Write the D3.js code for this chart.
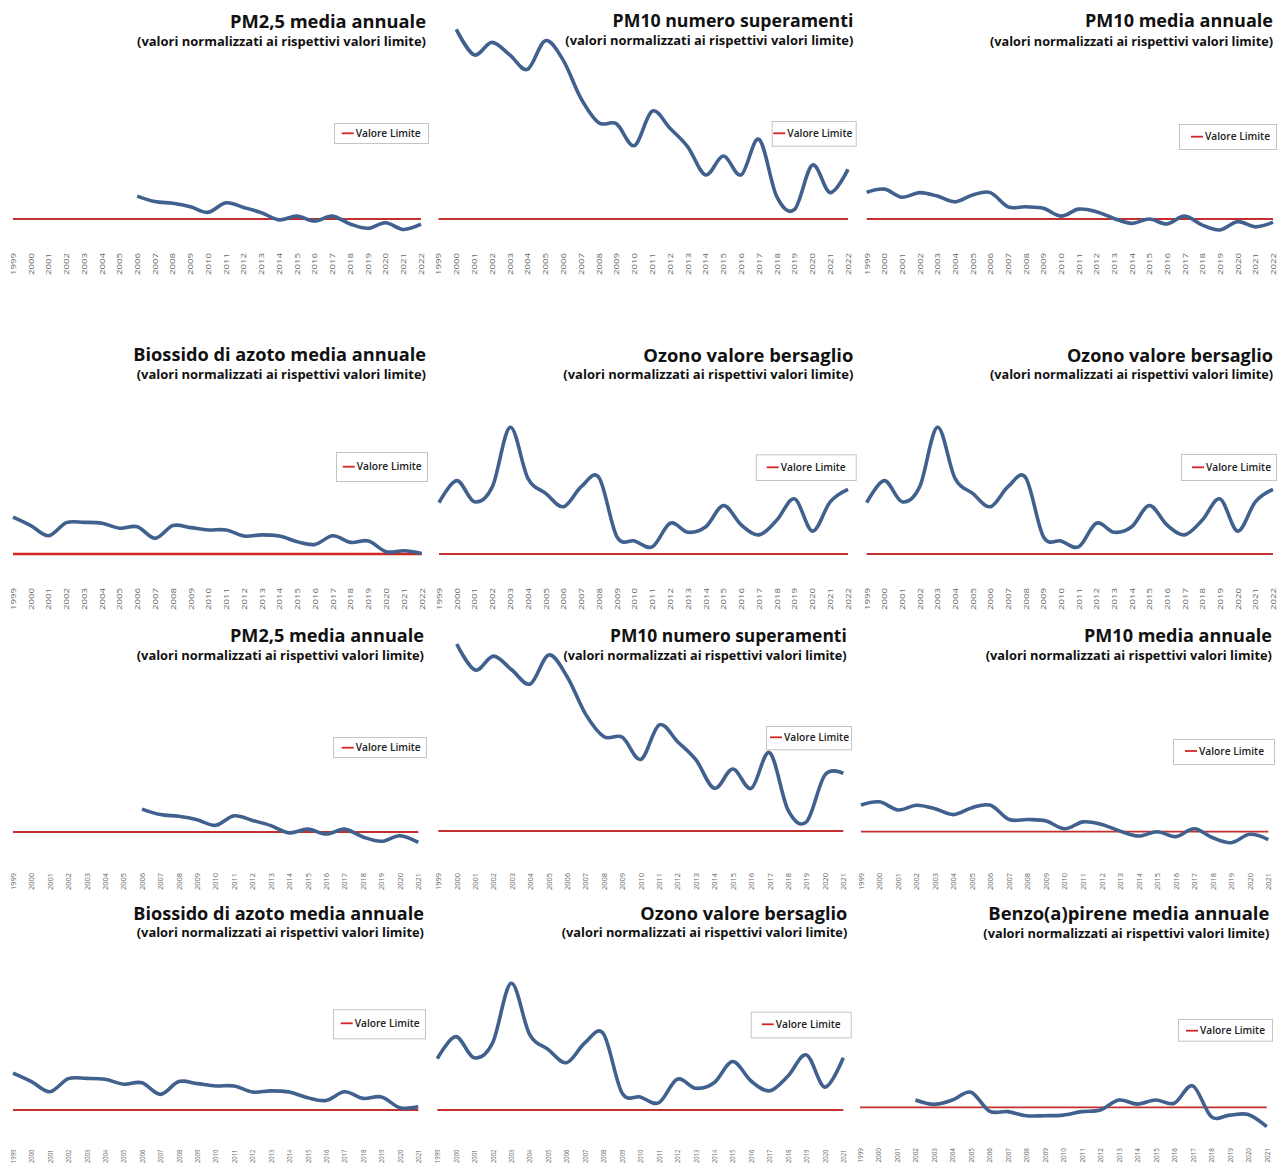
<!DOCTYPE html>
<html><head><meta charset="utf-8">
<script src="https://cdn.jsdelivr.net/npm/d3@7"></script>
<style>body{margin:0;background:#fff} svg{display:block}</style>
</head><body><svg id="c" width="1278" height="1164"></svg>
<script>
// ---------- DATA ----------
const years = ["1999","2000","2001","2002","2003","2004","2005","2006","2007","2008","2009","2010","2011","2012","2013","2014","2015","2016","2017","2018","2019","2020","2021","2022"];
const years2021 = ["1999","2000","2001","2002","2003","2004","2005","2006","2007","2008","2009","2010","2011","2012","2013","2014","2015","2016","2017","2018","2019","2020","2021"];

const limitValue = 1; // valori normalizzati: 1 = valore limite
const legendLabel = "Valore Limite";
const subtitle = "(valori normalizzati ai rispettivi valori limite)";

// PM2,5 media annuale, 2006-2022
const pm25Years = ["2006","2007","2008","2009","2010","2011","2012","2013","2014","2015","2016","2017","2018","2019","2020","2021","2022"];
const pm25Mean  = [1.79,1.60,1.54,1.42,1.23,1.56,1.40,1.22,0.97,1.10,0.93,1.10,0.83,0.68,0.87,0.64,0.82];

// PM10 numero superamenti, 2000-2022
const pm10ExcYears = ["2000","2001","2002","2003","2004","2005","2006","2007","2008","2009","2010","2011","2012","2013","2014","2015","2016","2017","2018","2019","2020","2021","2022"];
const pm10Exceed   = [7.54,6.66,7.09,6.66,6.16,7.15,6.48,5.16,4.32,4.28,3.53,4.72,4.13,3.49,2.52,3.17,2.52,3.75,1.77,1.33,2.86,1.91,2.71];
// PM10 numero superamenti (versione precedente), 2000-2021
const pm10ExcPrevYears = ["2000","2001","2002","2003","2004","2005","2006","2007","2008","2009","2010","2011","2012","2013","2014","2015","2016","2017","2018","2019","2020","2021"];
const pm10ExceedPrev   = [7.45,6.55,7.03,6.55,6.07,7.07,6.32,5.03,4.25,4.23,3.47,4.66,4.08,3.45,2.47,3.14,2.47,3.70,1.72,1.32,2.93,2.99];

// PM10 media annuale, 1999-2022
const pm10Mean = [1.92,2.03,1.75,1.91,1.79,1.59,1.83,1.91,1.42,1.42,1.37,1.10,1.34,1.25,1.02,0.85,1.00,0.83,1.10,0.79,0.62,0.91,0.73,0.89];
// Biossido di azoto media annuale, 1999-2022
const no2Mean  = [2.27,1.98,1.63,2.08,2.09,2.06,1.89,1.94,1.54,1.98,1.91,1.83,1.83,1.62,1.66,1.62,1.42,1.33,1.63,1.40,1.45,1.08,1.11,1.02];
// Ozono valore bersaglio, 1999-2022
const ozoneTarget = [2.77,3.53,2.80,3.32,5.37,3.61,3.09,2.63,3.32,3.63,1.60,1.45,1.25,2.06,1.75,1.94,2.67,2.00,1.66,2.17,2.90,1.79,2.80,3.23];
// Benzo(a)pirene media annuale, 2002-2021
const bapYears = ["2002","2003","2004","2005","2006","2007","2008","2009","2010","2011","2012","2013","2014","2015","2016","2017","2018","2019","2020","2021"];
const bapMean  = [1.25,1.10,1.25,1.52,0.87,0.85,0.71,0.71,0.73,0.85,0.91,1.25,1.11,1.25,1.14,1.74,0.68,0.73,0.75,0.33];

const titles = {
  pm25: "PM2,5 media annuale",
  pm10e: "PM10 numero superamenti",
  pm10m: "PM10 media annuale",
  no2: "Biossido di azoto media annuale",
  o3: "Ozono valore bersaglio",
  bap: "Benzo(a)pirene media annuale"
};

// ---------- LAYOUT ----------
const K = 29; // pixels per normalised unit
const panels = [
 {t:"pm25",  cats:years,    yrs:pm25Years, vals:pm25Mean, x0:13,    x1:421,    limitY:219,   tx:426,    ty:27.5,  tw:196,   sy:45.5,  sw:289,   leg:[334,123,94,20,341.7,133.3],  lt:253,  ll:22},
 {t:"pm10e", cats:years,    yrs:pm10ExcYears, vals:pm10Exceed, x0:438.5, x1:848, limitY:219, tx:853.3, ty:26.8, tw:240.7, sy:44.8, sw:288, leg:[771.7,121,84,24.7,773.3,133.3], lt:253, ll:22},
 {t:"pm10m", cats:years,    yrs:years, vals:pm10Mean,     x0:866.7, x1:1273,   limitY:219,   tx:1273,   ty:26.8,  tw:188,   sy:45.5,  sw:283,   leg:[1179,124,97,25,1191,136.7], lt:253, ll:22},
 {t:"no2",   cats:years,    yrs:years, vals:no2Mean,      x0:13,    x1:421.7,  limitY:554,   tx:426,    ty:360.5, tw:292.7, sy:378.5, sw:289.3, leg:[336,452,91,29,342.7,466.7],   lt:588,  ll:22, lw:2.6, lc:"#d42626"},
 {t:"o3",    cats:years,    yrs:years, vals:ozoneTarget,  x0:439,   x1:848,    limitY:554,   tx:853.3,  ty:361.5, tw:210,   sy:379,   sw:290,   leg:[755.7,454.3,100,25.7,766.7,467.3], lt:588, ll:22},
 {t:"o3",    cats:years,    yrs:years, vals:ozoneTarget,  x0:866.7, x1:1273,   limitY:554,   tx:1273,   ty:361.5, tw:206,   sy:379,   sw:283,   leg:[1181,454,95,26,1192,467.3], lt:588,  ll:22},
 {t:"pm25",  cats:years2021,yrs:pm25Years, vals:pm25Mean, x0:13,    x1:418.3,  limitY:832,   tx:424,    ty:641.7, tw:194,   sy:659.5, sw:287.3, leg:[333,737,93,20,341.7,747.7],   lt:873,  ll:17},
 {t:"pm10e", cats:years2021,yrs:pm10ExcPrevYears, vals:pm10ExceedPrev, x0:438.3, x1:843.3, limitY:831, tx:846.7, ty:641.7, tw:236.7, sy:659.5, sw:283.3, leg:[766,726,85,23.3,770,737.3], lt:873, ll:17},
 {t:"pm10m", cats:years2021,yrs:years, vals:pm10Mean,     x0:861,   x1:1268.3, limitY:831.7, tx:1272,   ty:641.7, tw:188,   sy:659.5, sw:286.3, leg:[1173,739,101,25,1185,751],    lt:873,  ll:17},
 {t:"no2",   cats:years2021,yrs:years, vals:no2Mean,      x0:13,    x1:418.3,  limitY:1110,  tx:424,    ty:919.5, tw:290.7, sy:937,   sw:287.3, leg:[333,1009.3,92,29,340.7,1023.3], lt:1149.5, ll:13.5, lw:2},
 {t:"o3",    cats:years2021,yrs:years, vals:ozoneTarget,  x0:437.3, x1:843.3,  limitY:1110,  tx:847.3,  ty:919.5, tw:207,   sy:937,   sw:285.6, leg:[750.7,1011.7,100,25.7,761.7,1024.3], lt:1149.5, ll:13.5},
 {t:"bap",   cats:years2021,yrs:bapYears, vals:bapMean,   x0:860,   x1:1266.7, limitY:1107.3,tx:1269.3, ty:920,   tw:281,   sy:938.3, sw:286,   leg:[1178,1019,94,21.7,1186,1030.7], lt:1148, ll:14.5}
];

const svg = d3.select("#c");
svg.append("rect").attr("width",1278).attr("height",1164).attr("fill","#fff");

const FONT = "'Open Sans', 'DejaVu Sans', sans-serif";

panels.forEach(p => {
  const g = svg.append("g");
  const x = d3.scalePoint().domain(p.cats).range([p.x0, p.x1]).padding(0);
  const y = d3.scaleLinear().domain([0, limitValue]).range([p.limitY + K, p.limitY]);

  // x axis labels (rotated)
  const ax = g.append("g").attr("transform", `translate(0,${p.lt})`)
    .call(d3.axisBottom(x).tickSize(0).tickPadding(0));
  ax.select(".domain").remove();
  ax.selectAll("text")
    .attr("transform","rotate(-90)")
    .attr("text-anchor","end")
    .attr("x",0).attr("y",0).attr("dy","0.36em")
    .attr("fill","#666")
    .style("font-family", FONT)
    .style("font-size","6.5px")
    .attr("textLength", p.ll)
    .attr("lengthAdjust","spacingAndGlyphs");

  // limit line
  const limitLine = d3.line().x(d => x(d)).y(() => y(limitValue));
  g.append("path").attr("d", limitLine(p.cats))
    .attr("fill","none").attr("stroke", p.lc || "#c4302f").attr("stroke-width", p.lw || 1.8);

  // data series
  const series = p.yrs.map((yr,i) => ({yr, v:p.vals[i]})).filter(d => p.cats.includes(d.yr));
  const line = d3.line().x(d => x(d.yr)).y(d => y(d.v)).curve(d3.curveCardinal.tension(0));
  g.append("path").attr("d", line(series))
    .attr("fill","none").attr("stroke","#40608d").attr("stroke-width",3.6)
    .attr("stroke-linejoin","round").attr("stroke-linecap","butt");

  // legend
  const [bx,by,bw,bh,lx,cy] = p.leg;
  g.append("rect").attr("x",bx+0.5).attr("y",by+0.5).attr("width",bw).attr("height",bh)
    .attr("fill","#fff").attr("stroke","#c4c4c4").attr("stroke-width",1);
  g.append("line").attr("x1",lx).attr("x2",lx+12).attr("y1",cy).attr("y2",cy)
    .attr("stroke","#d42626").attr("stroke-width",1.8);
  g.append("text").attr("x",lx+14).attr("y",cy).attr("dy","0.35em")
    .attr("fill","#222").style("font-family",FONT).style("font-size","10.5px").style("font-weight",600)
    .attr("textLength",65).attr("lengthAdjust","spacingAndGlyphs")
    .text(legendLabel);

  // titles
  g.append("text").attr("x",p.tx).attr("y",p.ty).attr("text-anchor","end")
    .attr("fill","#111").style("font-family",FONT).style("font-size","18.5px").style("font-weight",700)
    .attr("textLength",p.tw).attr("lengthAdjust","spacingAndGlyphs")
    .text(titles[p.t]);
  g.append("text").attr("x",p.tx).attr("y",p.sy).attr("text-anchor","end")
    .attr("fill","#111").style("font-family",FONT).style("font-size","12.2px").style("font-weight",700)
    .attr("textLength",p.sw).attr("lengthAdjust","spacingAndGlyphs")
    .text(subtitle);
});
</script></body></html>
